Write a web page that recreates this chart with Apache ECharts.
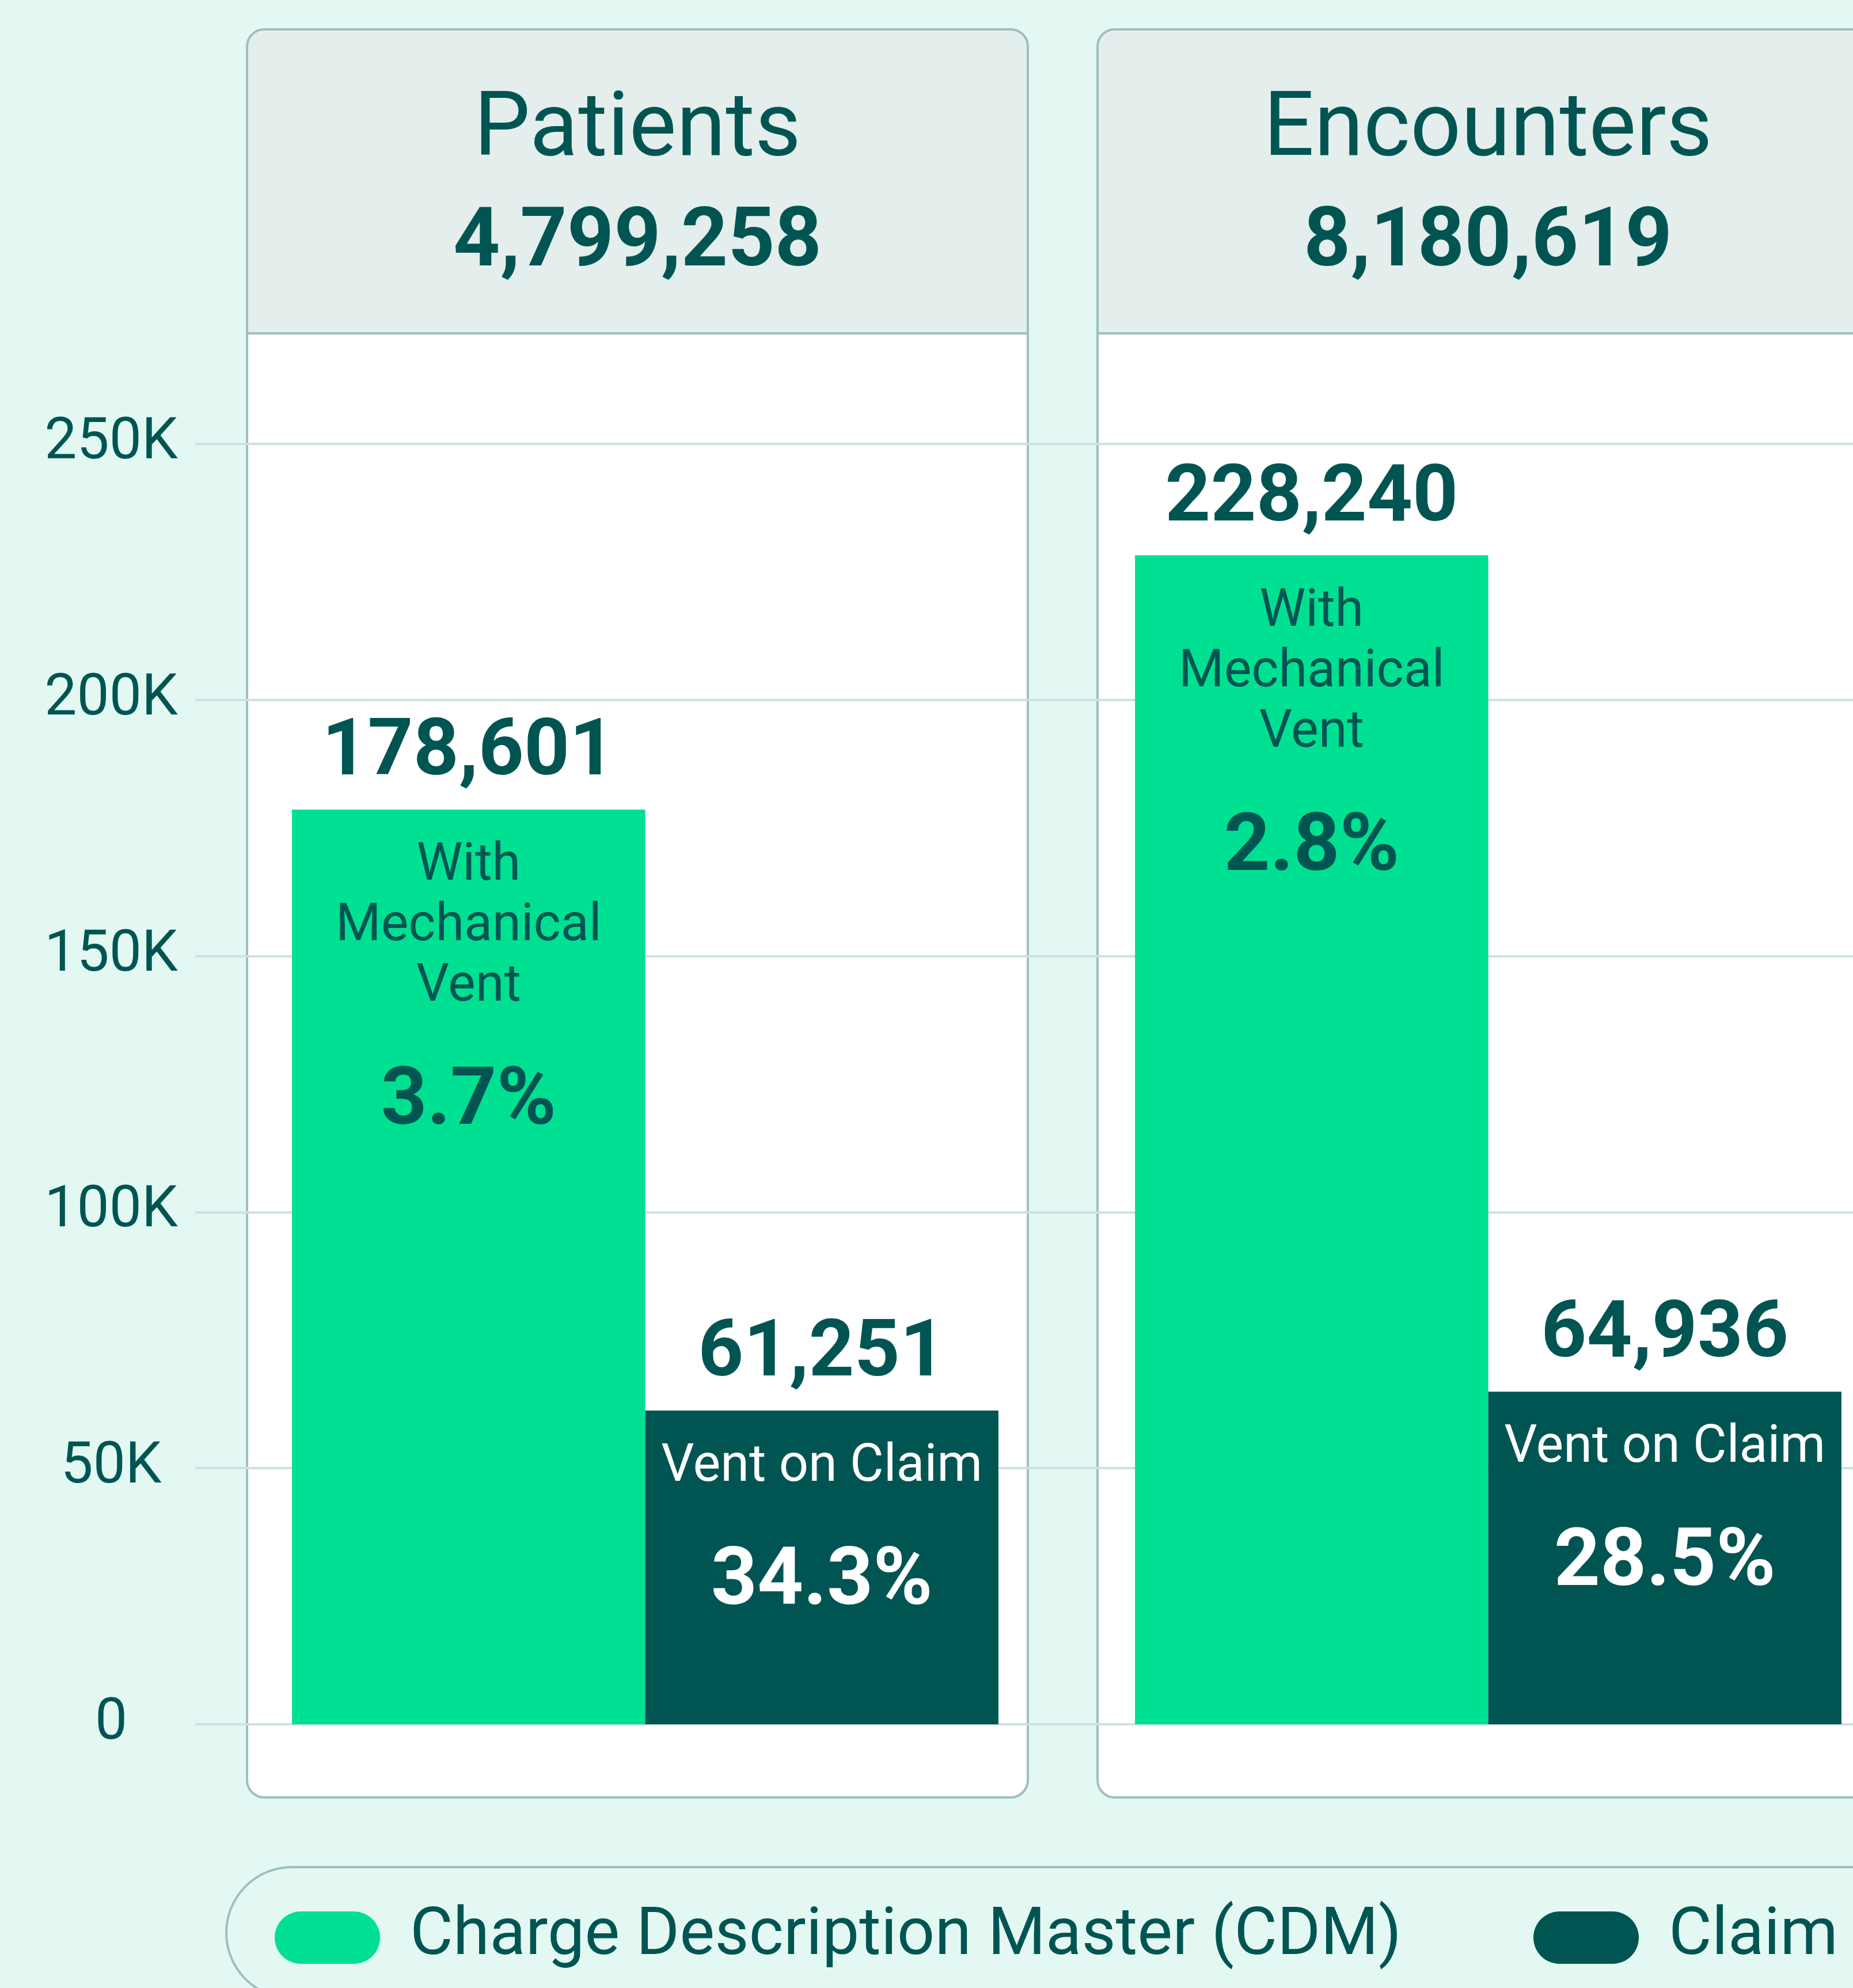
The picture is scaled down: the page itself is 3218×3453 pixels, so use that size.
<!DOCTYPE html>
<html>
<head>
<meta charset="utf-8">
<script src="https://cdn.jsdelivr.net/npm/echarts@6/dist/echarts.min.js"></script>
<style>
  html, body { margin: 0; padding: 0; background: #e4f8f3; }
  #chart { width: 3218px; height: 3453px; }
</style>
</head>
<body>
<div id="chart"></div>
<script>
// ---------- data ----------
const categories = ['Patients', 'Encounters'];
const categoryTotals = ['4,799,258', '8,180,619'];
const seriesNames = ['Charge Description Master (CDM)', 'Claim'];
const cdmValues = [178601, 228240];
const claimValues = [61251, 64936];
const cdmPercents = ['3.7%', '2.8%'];
const claimPercents = ['34.3%', '28.5%'];
const cdmInnerLines = ['With', 'Mechanical', 'Vent'];
const claimInnerLines = ['Vent on Claim'];
const yTicks = [0, 50000, 100000, 150000, 200000, 250000];
const yTickLabels = ['0', '50K', '100K', '150K', '200K', '250K'];

// ---------- style ----------
const FONT = 'Roboto';
const DARK = '#005552';
const GREEN = '#00e092';
const BG = '#e4f8f3';
const BORDER = '#9dbfbf';
const HEADER_FILL = '#e4eeed';
const GRIDLINE = '#cfe0e0';

const W = 3218, H = 3453;
const panelLefts = [429, 1906];
const panelWidth = 1356;
const panelTop = 51, panelBottom = 3122, headerBottom = 579;

const fmt = v => v.toLocaleString('en-US');

function richLabel(valueTextColor, innerColor) {
  return {
    v: { fontFamily: FONT, fontSize: 138, fontWeight: 'bold', color: valueTextColor, lineHeight: 285, textBorderWidth: 0 },
    a: { fontFamily: FONT, fontSize: 90, fontWeight: 'normal', color: innerColor, lineHeight: 105, textBorderWidth: 0 },
    p: { fontFamily: FONT, fontSize: 140, fontWeight: 'bold', color: innerColor, lineHeight: 298, textBorderWidth: 0 }
  };
}

const graphics = [];
panelLefts.forEach((x, i) => {
  const h = panelBottom - panelTop;
  graphics.push({ type: 'rect', z: -5, silent: true,
    shape: { x: x, y: panelTop, width: panelWidth, height: h, r: 30 },
    style: { fill: '#ffffff' } });
  graphics.push({ type: 'rect', z: -5, silent: true,
    shape: { x: x, y: panelTop, width: panelWidth, height: headerBottom - panelTop, r: [30, 30, 0, 0] },
    style: { fill: HEADER_FILL } });
  graphics.push({ type: 'line', z: -4, silent: true,
    shape: { x1: x, y1: headerBottom, x2: x + panelWidth, y2: headerBottom },
    style: { stroke: BORDER, lineWidth: 4 } });
  graphics.push({ type: 'rect', z: -4, silent: true,
    shape: { x: x, y: panelTop, width: panelWidth, height: h, r: 30 },
    style: { fill: 'none', stroke: BORDER, lineWidth: 4 } });
  const cx = x + panelWidth / 2;
  graphics.push({ type: 'text', z: 10, silent: true, x: cx, y: 230,
    style: { text: categories[i], fontFamily: FONT, fontSize: 155, fontWeight: 'normal', fill: DARK, align: 'center', verticalAlign: 'middle' } });
  graphics.push({ type: 'text', z: 10, silent: true, x: cx, y: 425,
    style: { text: categoryTotals[i], fontFamily: FONT, fontSize: 142, fontWeight: 'bold', fill: DARK, align: 'center', verticalAlign: 'middle' } });
});
// legend frame
graphics.push({ type: 'rect', z: -5, silent: true,
  shape: { x: 393, y: 3243, width: 3100, height: 228, r: 114 },
  style: { fill: BG, stroke: BORDER, lineWidth: 4 } });

const chart = echarts.init(document.getElementById('chart'), null, { renderer: 'canvas', width: W, height: H });

const option = {
  backgroundColor: BG,
  animation: false,
  textStyle: { fontFamily: FONT },
  graphic: { elements: graphics },
  grid: [
    { left: 339, right: 0, top: 771, bottom: 458 },
    // bars grid: category centres sit on the grid edges (boundaryGap false)
    { left: 1120.5, width: 1464, top: 771, bottom: 458 }
  ],
  xAxis: [
    { gridIndex: 0, type: 'category', data: categories, show: false },
    { gridIndex: 1, type: 'category', data: categories, show: false, boundaryGap: false }
  ],
  yAxis: [
    { gridIndex: 0, type: 'value', min: 0, max: 250000, interval: 50000,
      axisLine: { show: false }, axisTick: { show: false },
      axisLabel: { formatter: v => yTickLabels[yTicks.indexOf(v)], fontFamily: FONT, fontSize: 100, color: DARK, align: 'center', margin: 146, padding: [30, 0, 0, 0] },
      splitLine: { show: true, lineStyle: { color: GRIDLINE, width: 4 } } },
    { gridIndex: 1, type: 'value', min: 0, max: 250000, interval: 50000, show: false, splitLine: { show: false } }
  ],
  legend: {
    data: seriesNames,
    left: 477, top: 3308, padding: 0,
    itemWidth: 183, itemHeight: 91, itemGap: 229,
    icon: 'path://M45.5,0L137.5,0A45.5,45.5,0,0,1,137.5,91L45.5,91A45.5,45.5,0,0,1,45.5,0Z',
    textStyle: { fontFamily: FONT, fontSize: 115, color: DARK, padding: [0, 0, 0, 47] }
  },
  series: [
    { name: seriesNames[0], type: 'bar', xAxisIndex: 1, yAxisIndex: 1, clip: false,
      data: cdmValues, barGap: '0%', barCategoryGap: '16.2%',
      itemStyle: { color: GREEN },
      label: { show: true, position: 'insideTop', distance: 0, offset: [0, -238],
        formatter: p => ['{v|' + fmt(cdmValues[p.dataIndex]) + '}']
          .concat(cdmInnerLines.map(s => '{a|' + s + '}'))
          .concat(['{p|' + cdmPercents[p.dataIndex] + '}']).join('\n'),
        rich: richLabel(DARK, DARK) } },
    { name: seriesNames[1], type: 'bar', xAxisIndex: 1, yAxisIndex: 1, clip: false,
      data: claimValues, barGap: '0%', barCategoryGap: '16.2%',
      itemStyle: { color: DARK },
      label: { show: true, position: 'insideTop', distance: 0, offset: [0, -238],
        formatter: p => ['{v|' + fmt(claimValues[p.dataIndex]) + '}']
          .concat(claimInnerLines.map(s => '{a|' + s + '}'))
          .concat(['{p|' + claimPercents[p.dataIndex] + '}']).join('\n'),
        rich: richLabel(DARK, '#ffffff') } }
  ]
};
chart.setOption(option);
</script>
</body>
</html>
